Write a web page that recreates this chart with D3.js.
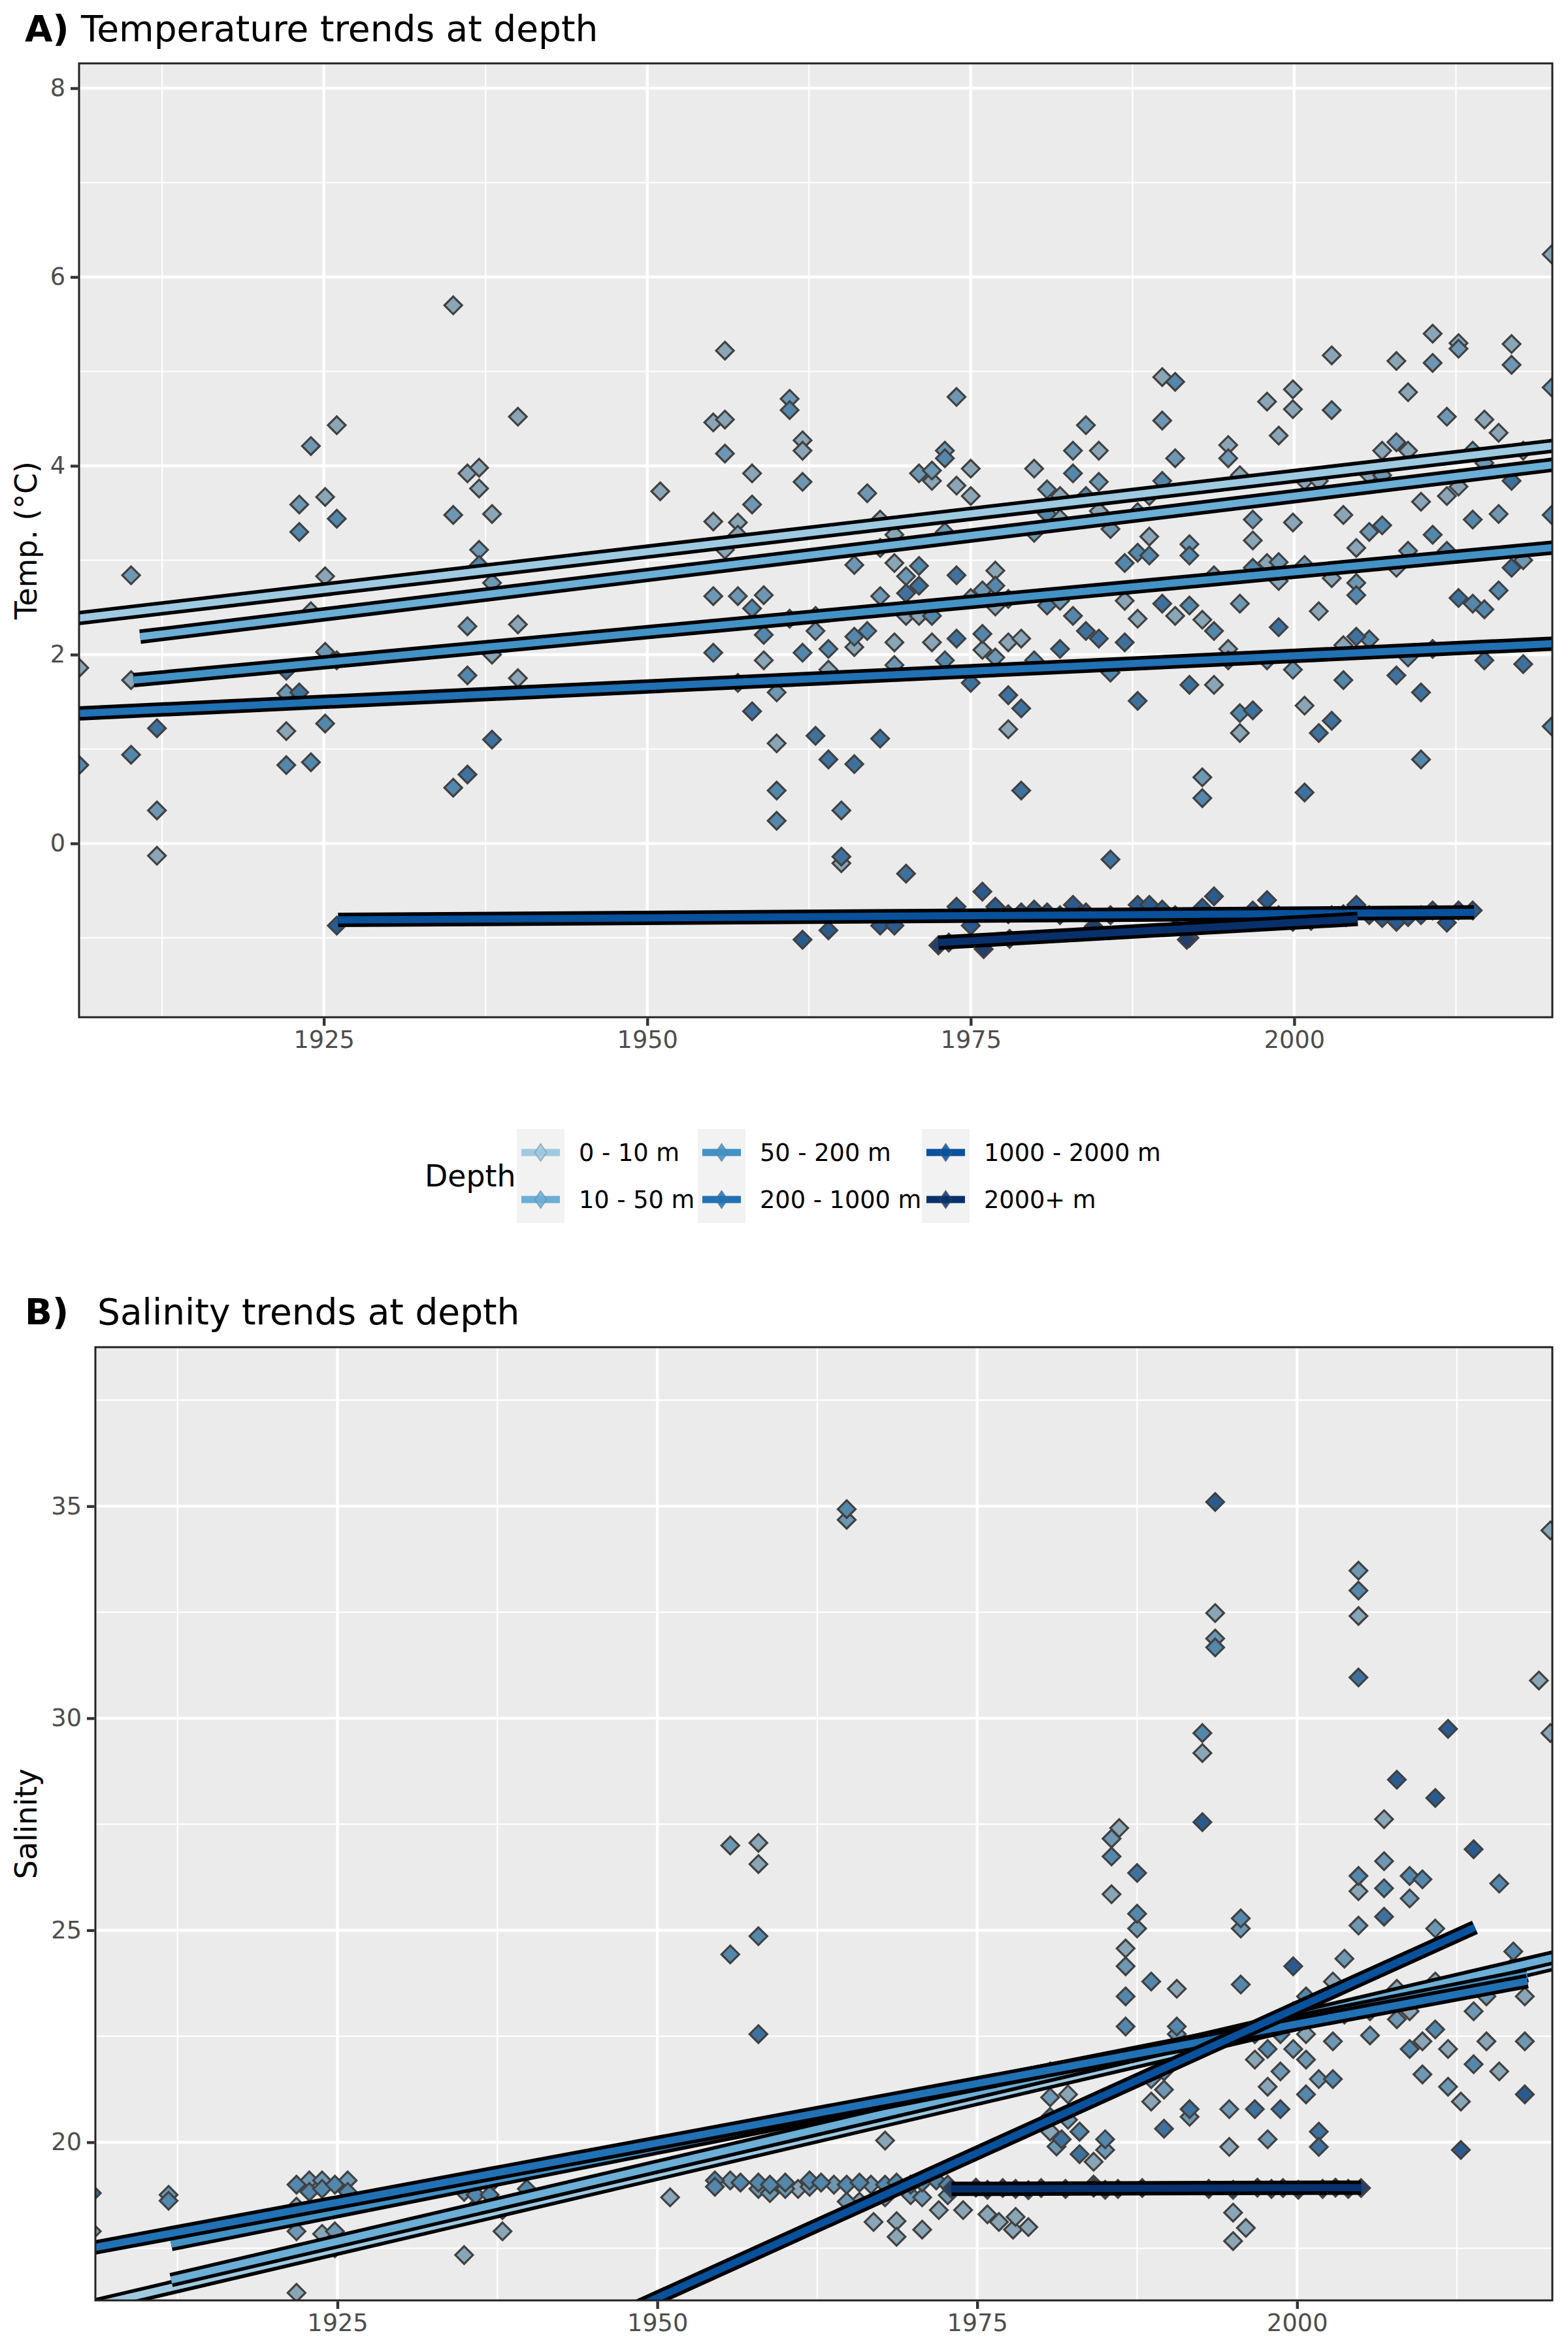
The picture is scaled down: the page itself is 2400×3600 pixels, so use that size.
<!DOCTYPE html>
<html><head><meta charset="utf-8">
<script src="https://cdn.jsdelivr.net/npm/d3@7"></script>
<style>body{margin:0;background:#fff} text{font-family:"DejaVu Sans",sans-serif}</style>
</head><body><svg id="c" width="2400" height="3600"></svg>
<script>
// ---------- categories / colours ----------
const depths = ["0 - 10 m","10 - 50 m","50 - 200 m","200 - 1000 m","1000 - 2000 m","2000+ m"];
const lineColors = ["#9ecae1","#6baed6","#4292c6","#2171b5","#08519c","#08306b"];
const pointFills = ["#89a5b6","#6d97b3","#5387ab","#3e719d","#2b5a8e","#243f6b"];
const xTicks = [1925,1950,1975,2000];
const xMinor = [1912.5,1937.5,1962.5,1987.5,2012.5];
const tempTicks = [0,2,4,6,8];
const tempMinor = [-1,1,3,5,7];
const salTicks = [20,25,30,35];
const salMinor = [17.5,22.5,27.5,32.5,37.5];

// ---------- temperature points [year, °C] by depth ----------
const temp0 = [[1906.1,1.86],[1910.1,1.73],[1912.1,-0.13],[1922.1,1.19],[1924.0,2.46],[1925.1,3.67],[1925.1,2.83],[1926.0,4.43],[1935.0,5.70],[1936.1,3.92],[1937.0,3.98],[1937.0,3.76],[1938.0,3.49],[1938.0,2.0],[1940.0,4.52],[1940.0,2.32],[1940.0,1.75],[1951.0,3.73],[1955.1,4.46],[1955.1,3.41],[1956.0,5.22],[1956.0,4.49],[1956.0,3.11],[1957.0,3.40],[1957.0,3.27],[1957.0,1.70],[1958.1,3.92],[1959.0,1.94],[1960.0,1.06],[1961.0,2.38],[1962.0,4.27],[1962.0,4.16],[1963.0,2.41],[1964.0,1.84],[1965.0,-0.21],[1966.0,2.08],[1968.0,3.43],[1968.0,3.13],[1969.1,3.27],[1969.1,2.97],[1969.1,2.13],[1970.0,2.41],[1971.0,2.41],[1972.0,3.84],[1972.0,2.13],[1973.9,3.79],[1975.0,3.97],[1975.0,3.68],[1975.0,2.60],[1975.9,2.05],[1976.9,2.89],[1976.9,2.51],[1977.9,2.59],[1977.9,2.13],[1977.9,1.21],[1978.9,2.17],[1979.9,3.97],[1981.9,3.68],[1981.9,3.44],[1984.9,4.16],[1984.9,3.52],[1986.9,2.57],[1987.9,2.38],[1988.8,3.25],[1989.8,4.94],[1990.8,2.41],[1992.9,2.37],[1993.8,1.68],[1994.9,4.22],[1994.9,2.06],[1995.8,3.90],[1995.8,1.17],[1996.8,3.21],[1997.9,4.68],[1997.9,2.97],[1998.8,4.32],[1998.8,2.78],[1999.9,4.81],[1999.9,4.60],[1999.9,3.40],[2000.8,3.84],[2000.8,1.46],[2001.9,3.84],[2001.9,2.46],[2002.9,5.17],[2002.9,2.81],[2003.8,3.48],[2003.8,2.10],[2004.8,3.13],[2005.8,3.90],[2006.8,4.16],[2007.9,5.11],[2007.9,2.92],[2008.8,4.78],[2008.8,4.16],[2009.8,3.62],[2010.7,5.40],[2011.8,3.68],[2012.7,5.30],[2012.7,3.78],[2014.7,4.49],[2015.8,4.35],[2016.8,5.29],[2017.7,4.16],[2019.9,6.24]];
const temp1 = [[1910.1,2.84],[1912.1,0.35],[1922.1,1.59],[1923.1,3.59],[1924.0,4.21],[1925.1,2.03],[1935.0,3.48],[1936.1,2.30],[1937.0,3.11],[1938.0,2.76],[1955.1,2.62],[1956.0,4.13],[1957.0,2.62],[1958.1,3.59],[1959.0,2.63],[1960.0,1.60],[1961.0,4.71],[1962.0,3.83],[1963.0,2.25],[1966.0,2.95],[1967.0,3.71],[1968.0,2.62],[1969.1,1.89],[1970.0,2.83],[1971.0,3.92],[1972.0,3.95],[1973.0,4.16],[1973.0,3.30],[1973.9,4.73],[1975.9,2.68],[1976.9,1.97],[1979.9,3.29],[1980.9,3.75],[1981.9,2.57],[1982.9,4.16],[1983.9,4.43],[1984.9,3.83],[1985.8,3.33],[1987.9,3.51],[1988.8,3.68],[1989.8,4.48],[1990.8,4.08],[1991.9,3.17],[1992.9,0.70],[1993.8,2.84],[1994.9,4.08],[1995.8,2.54],[1996.8,3.43],[1997.9,1.94],[1998.8,2.98],[1999.9,1.84],[2000.8,2.95],[2002.9,4.59],[2004.8,2.76],[2005.8,3.30],[2006.8,3.90],[2007.9,4.25],[2008.8,3.10],[2010.7,5.09],[2011.8,4.52],[2012.7,5.24],[2013.8,4.16],[2014.7,4.03],[2015.8,3.49],[2016.8,5.07],[2017.7,3.0],[2019.9,4.83]];
const temp2 = [[1906.1,0.83],[1910.1,0.94],[1922.1,0.83],[1923.1,3.30],[1924.0,0.86],[1925.1,1.27],[1926.0,3.44],[1935.0,0.59],[1936.1,1.78],[1937.0,2.95],[1955.1,2.02],[1958.1,2.49],[1959.0,2.21],[1960.0,0.56],[1960.0,0.24],[1961.0,4.59],[1962.0,2.02],[1964.0,2.06],[1965.0,0.35],[1966.0,2.19],[1967.0,2.25],[1971.0,2.94],[1972.0,2.41],[1973.0,4.08],[1973.0,1.94],[1975.9,2.22],[1976.9,2.73],[1979.9,1.94],[1980.9,3.49],[1980.9,2.52],[1982.9,3.92],[1982.9,2.41],[1983.9,3.68],[1985.8,1.81],[1986.9,2.97],[1987.9,3.08],[1988.8,3.05],[1989.8,3.84],[1990.8,4.89],[1991.9,3.05],[1991.9,2.52],[1992.9,0.48],[1993.8,2.25],[1994.9,1.94],[1995.8,1.38],[1996.8,2.92],[2003.8,1.73],[2004.8,2.63],[2005.8,2.16],[2006.8,3.37],[2008.8,1.97],[2009.8,0.89],[2010.7,3.27],[2011.8,3.10],[2013.8,3.43],[2013.8,2.54],[2014.7,2.48],[2015.8,2.68],[2019.9,3.48],[2019.9,1.24]];
const temp3 = [[1912.1,1.22],[1922.1,1.83],[1923.1,1.60],[1926.0,1.94],[1936.1,0.73],[1938.0,1.10],[1958.1,1.40],[1963.0,1.14],[1964.0,0.89],[1965.0,-0.14],[1966.0,0.84],[1968.0,1.11],[1970.0,2.65],[1970.0,-0.32],[1971.0,2.73],[1973.9,2.84],[1973.9,2.17],[1975.0,1.70],[1977.9,1.57],[1978.9,1.43],[1978.9,0.56],[1981.9,2.06],[1983.9,2.25],[1984.9,2.17],[1985.8,-0.17],[1986.9,2.13],[1987.9,1.51],[1989.8,2.54],[1991.9,1.68],[1996.8,1.41],[1998.8,2.29],[2000.8,0.54],[2001.9,1.17],[2002.9,1.30],[2004.8,2.19],[2007.9,1.78],[2009.8,1.60],[2010.7,2.06],[2012.7,2.60],[2014.7,1.94],[2016.8,3.84],[2016.8,2.92],[2017.7,1.90]];
const temp4 = [[1926.0,-0.87],[1962.0,-1.02],[1964.0,-0.92],[1968.0,-0.87],[1969.1,-0.87],[1973.9,-0.67],[1975.0,-0.87],[1975.9,-0.51],[1976.9,-0.67],[1977.9,-0.75],[1978.9,-0.73],[1979.9,-0.70],[1980.9,-0.73],[1981.9,-0.76],[1982.9,-0.65],[1983.9,-0.73],[1985.8,-0.76],[1987.9,-0.65],[1988.8,-0.65],[1989.8,-0.70],[1990.8,-0.76],[1991.9,-1.0],[1992.9,-0.68],[1993.8,-0.56],[1996.8,-0.71],[1997.9,-0.60],[1998.8,-0.76],[1999.9,-0.83],[2001.9,-0.79],[2002.9,-0.76],[2003.8,-0.75],[2004.8,-0.65],[2005.8,-0.76],[2006.8,-0.79],[2007.9,-0.83],[2008.8,-0.78],[2009.8,-0.76],[2010.7,-0.71],[2011.8,-0.84],[2012.7,-0.71],[2013.8,-0.71]];
const temp5 = [[1972.5,-1.08],[1973.3,-1.05],[1976.0,-1.12],[1978.0,-1.01],[1984.5,-0.88],[1991.7,-1.02],[1995.5,-0.84],[1998.4,-0.80],[2001.3,-0.82],[2004.0,-0.78]];

// ---------- salinity points [year, salinity] by depth ----------
const sal0 = [[1905.8,17.9],[1921.8,18.48],[1921.8,16.45],[1923.8,17.84],[1924.8,17.5],[1934.9,17.34],[1937.9,17.9],[1937.9,18.4],[1951.0,18.7],[1957.9,27.06],[1957.9,26.56],[1961.0,18.9],[1965.8,18.6],[1966.9,18.12],[1967.8,20.04],[1968.7,18.14],[1968.7,17.77],[1970.7,17.94],[1972.0,18.4],[1973.9,18.4],[1975.8,18.3],[1976.7,18.12],[1977.8,17.94],[1978.0,18.24],[1979.0,18.0],[1980.7,20.25],[1982.1,21.13],[1984.1,19.54],[1985.5,25.85],[1986.1,27.41],[1986.6,24.57],[1988.6,20.96],[1990.6,23.62],[1992.6,29.18],[1993.6,32.48],[1994.7,19.89],[1995.0,18.34],[1996.0,17.98],[1995.0,17.67],[1996.7,21.95],[1997.7,21.31],[2000.7,22.55],[2002.8,23.79],[2004.8,32.41],[2004.8,25.92],[2006.8,27.62],[2007.8,23.62],[2008.8,23.09],[2009.8,22.38],[2010.8,23.79],[2011.8,22.2],[2012.8,20.96],[2014.8,22.38],[2015.8,21.67],[2017.8,23.44],[2018.9,30.89],[2019.8,34.43],[2019.8,29.65]];
const sal1 = [[1911.8,18.76],[1921.8,17.9],[1922.8,19.1],[1923.8,19.1],[1924.8,17.9],[1925.8,19.1],[1934.9,18.83],[1935.8,18.48],[1936.9,19.0],[1955.7,19.1],[1955.7,27.0],[1957.9,18.9],[1958.8,18.8],[1960.0,18.9],[1961.9,18.95],[1963.8,19.0],[1964.8,34.68],[1964.8,18.6],[1966.7,19.0],[1967.8,18.7],[1969.8,18.75],[1970.7,18.7],[1972.7,18.75],[1980.7,21.06],[1981.2,19.9],[1982.1,20.53],[1983.0,20.25],[1985.0,19.82],[1985.5,27.16],[1986.6,24.15],[1987.5,25.04],[1988.6,21.49],[1989.6,21.24],[1990.6,22.55],[1991.6,20.6],[1993.6,31.88],[1994.7,20.78],[1995.6,25.04],[1996.7,22.55],[1997.7,20.07],[1998.7,21.67],[1999.7,22.2],[2000.7,21.95],[2001.7,21.49],[2002.8,22.38],[2003.7,24.33],[2004.8,33.48],[2004.8,25.11],[2005.7,22.52],[2006.8,26.63],[2007.8,22.9],[2008.8,25.75],[2009.8,21.6],[2010.8,25.04],[2011.8,21.31],[2013.8,23.09],[2014.8,23.44],[2016.9,24.15],[2017.8,22.38]];
const sal2 = [[1911.8,18.62],[1921.8,19.0],[1922.8,18.83],[1923.8,18.9],[1924.8,19.0],[1925.8,18.83],[1935.8,18.76],[1936.9,18.76],[1939.8,18.9],[1954.5,19.1],[1954.5,18.95],[1955.7,24.43],[1956.5,19.05],[1957.9,24.86],[1957.9,19.05],[1958.8,19.0],[1960.0,19.05],[1961.9,19.1],[1962.8,19.05],[1964.8,34.93],[1964.8,19.0],[1965.8,19.05],[1967.8,19.0],[1968.7,19.05],[1969.8,19.0],[1970.7,19.05],[1971.8,19.1],[1972.7,19.0],[1980.7,21.67],[1980.7,20.6],[1983.0,20.25],[1984.1,19.0],[1985.0,20.07],[1985.5,26.74],[1986.6,23.44],[1986.6,22.73],[1987.5,25.39],[1988.6,23.79],[1989.6,21.67],[1990.6,22.73],[1992.6,29.65],[1993.6,31.67],[1995.6,25.28],[1995.6,23.72],[1997.7,22.2],[1998.7,22.55],[1999.7,23.09],[2000.7,23.44],[2000.7,21.13],[2001.7,23.09],[2002.8,21.49],[2003.7,23.01],[2004.8,33.01],[2004.8,26.28],[2005.7,23.09],[2006.8,25.99],[2008.8,26.28],[2008.8,22.2],[2009.8,26.2],[2010.8,22.66],[2013.8,21.84],[2014.8,23.79],[2015.8,26.1],[2016.9,24.5]];
const sal3 = [[1905.8,18.8],[1957.9,22.55],[1981.6,20.07],[1983.0,19.72],[1987.5,26.35],[1989.6,20.32],[1991.6,20.78],[1996.7,20.78],[1998.7,20.78],[2001.7,20.25],[2001.7,19.89],[2004.8,30.96],[2006.8,25.32]];
const sal4 = [[1993.6,35.1],[1992.6,27.55],[1999.7,24.15],[2007.8,28.55],[2010.8,28.12],[2011.8,29.75],[2012.8,19.82],[2013.8,26.91],[2017.8,21.13]];
const sal5 = [[1973.0,18.9],[1974.9,18.93],[1975.8,18.88],[1977.0,18.92],[1978.0,18.9],[1979.0,18.87],[1980.0,18.92],[1981.9,18.9],[1984.1,18.93],[1985.0,18.88],[1986.0,18.9],[1987.9,18.92],[1993.1,18.9],[1995.0,18.88],[1996.9,18.93],[1998.0,18.9],[1998.9,18.92],[2000.1,18.88],[2002.0,18.9],[2003.0,18.93],[2004.0,18.9],[2005.0,18.92]];

// ---------- linear trends [startYear, startValue, endYear, endValue] by depth ----------
const tempTrends = [[1905.0,2.37,2020.5,4.22],[1910.8,2.19,2020.5,4.02],[1910.3,1.73,2020.5,3.14],[1905.0,1.37,2020.5,2.12],[1926.1,-0.81,2013.9,-0.73],[1972.5,-1.05,2004.9,-0.80]];
const salTrends = [[1905.0,16.08,2020.5,24.24],[1912.0,16.75,2020.5,24.39],[1912.0,17.6,2018.0,23.94],[1905.0,17.46,2018.0,23.80],[1926.0,13.05,2013.9,25.07],[1973.0,18.9,2005.0,18.93]];

const xDomain = [1906.08, 2019.95];
const svg = d3.select("#c");
const defs = svg.append("defs");
const diamond = "M0,-13.5L13.5,0L0,13.5L-13.5,0Z";

function drawPanel(o){
  const x = d3.scaleLinear().domain(xDomain).range([o.left,o.right]);
  const y = d3.scaleLinear().domain(o.yDomain).range([o.bottom,o.top]);
  const g = svg.append("g");
  defs.append("clipPath").attr("id",o.id).append("rect")
    .attr("x",o.left).attr("y",o.top).attr("width",o.right-o.left).attr("height",o.bottom-o.top);
  g.append("rect").attr("x",o.left).attr("y",o.top).attr("width",o.right-o.left).attr("height",o.bottom-o.top).attr("fill","#ebebeb");
  const grid = g.append("g");
  xMinor.forEach(v=>grid.append("line").attr("x1",x(v)).attr("x2",x(v)).attr("y1",o.top).attr("y2",o.bottom).attr("stroke","#fff").attr("stroke-width",2.2));
  o.yMinor.forEach(v=>grid.append("line").attr("x1",o.left).attr("x2",o.right).attr("y1",y(v)).attr("y2",y(v)).attr("stroke","#fff").attr("stroke-width",2.2));
  xTicks.forEach(v=>grid.append("line").attr("x1",x(v)).attr("x2",x(v)).attr("y1",o.top).attr("y2",o.bottom).attr("stroke","#fff").attr("stroke-width",4.4));
  o.yTicks.forEach(v=>grid.append("line").attr("x1",o.left).attr("x2",o.right).attr("y1",y(v)).attr("y2",y(v)).attr("stroke","#fff").attr("stroke-width",4.4));

  const pg = g.append("g").attr("clip-path",`url(#${o.id})`);
  o.points.forEach((arr,i)=>{
    pg.append("g").selectAll("path").data(arr).join("path")
      .attr("d",diamond)
      .attr("transform",d=>`translate(${x(d[0])},${y(d[1])})`)
      .attr("fill",pointFills[i]).attr("stroke","#414141").attr("stroke-width",3.2);
  });
  o.trends.forEach((t,i)=>{
    const lg = pg.append("g");
    lg.append("line").attr("x1",x(t[0])).attr("y1",y(t[1])).attr("x2",x(t[2])).attr("y2",y(t[3]))
      .attr("stroke","#000").attr("stroke-width",22);
    lg.append("line").attr("x1",x(t[0])).attr("y1",y(t[1])).attr("x2",x(t[2])).attr("y2",y(t[3]))
      .attr("stroke",lineColors[i]).attr("stroke-width",11);
  });
  g.append("rect").attr("x",o.left).attr("y",o.top).attr("width",o.right-o.left).attr("height",o.bottom-o.top)
    .attr("fill","none").attr("stroke","#222").attr("stroke-width",3);

  const ax = g.append("g").attr("transform",`translate(0,${o.bottom+1.5})`)
    .call(d3.axisBottom(x).tickValues(xTicks).tickFormat(d3.format("d")).tickSize(11.5).tickPadding(8));
  const ay = g.append("g").attr("transform",`translate(${o.left-1.5},0)`)
    .call(d3.axisLeft(y).tickValues(o.yTicks).tickFormat(d3.format("d")).tickSize(11.5).tickPadding(8));
  [ax,ay].forEach(a=>{
    a.select(".domain").remove();
    a.selectAll(".tick line").attr("stroke","#333").attr("stroke-width",4.4);
    a.selectAll(".tick text").attr("fill","#4d4d4d").attr("font-size",36.7).attr("font-family","DejaVu Sans");
  });
  svg.append("text").attr("transform",`translate(56,${(o.top+o.bottom)/2}) rotate(-90)`)
    .attr("text-anchor","middle").attr("font-size",45.8).attr("fill","#000").text(o.ylab);
  svg.append("text").attr("x",38).attr("y",o.titleY).attr("font-size",55).attr("font-weight","bold").text(o.tag);
  svg.append("text").attr("x",o.left+3).attr("y",o.titleY).attr("font-size",55).text(o.title);
}

drawPanel({id:"clipA",left:121,right:2376,top:97,bottom:1557,yDomain:[-1.841,8.263],
  yTicks:tempTicks,yMinor:tempMinor,points:[temp0,temp1,temp2,temp3,temp4,temp5],trends:tempTrends,
  ylab:"Temp. (°C)",tag:"A)",title:"Temperature trends at depth",titleY:63});
drawPanel({id:"clipB",left:146,right:2376,top:2062,bottom:3521,yDomain:[16.271,38.75],
  yTicks:salTicks,yMinor:salMinor,points:[sal0,sal1,sal2,sal3,sal4,sal5],trends:salTrends,
  ylab:"Salinity",tag:"B)",title:"Salinity trends at depth",titleY:2027});

// ---------- legend ----------
const lg = svg.append("g");
lg.append("text").attr("x",650).attr("y",1800).attr("dy","0.35em").attr("font-size",45.8).text("Depth");
const colX = [791,1068,1411];
[0,1,2].forEach(c=>lg.append("rect").attr("x",colX[c]).attr("y",1728).attr("width",73).attr("height",144).attr("fill","#f2f2f2"));
depths.forEach((d,i)=>{
  const c = Math.floor(i/2), r = i%2;
  const cy = 1764 + 72*r, cx = colX[c]+36.5;
  lg.append("line").attr("x1",colX[c]+7).attr("x2",colX[c]+66).attr("y1",cy).attr("y2",cy)
    .attr("stroke",lineColors[i]).attr("stroke-width",11);
  lg.append("path").attr("d","M0,-13L9,0L0,13L-9,0Z").attr("transform",`translate(${cx},${cy})`)
    .attr("fill",lineColors[i]).attr("stroke",pointFills[i]).attr("stroke-width",2).attr("opacity",0.85);
  lg.append("text").attr("x",colX[c]+95).attr("y",cy).attr("dy","0.35em").attr("font-size",36.7).text(d);
});
</script></body></html>
